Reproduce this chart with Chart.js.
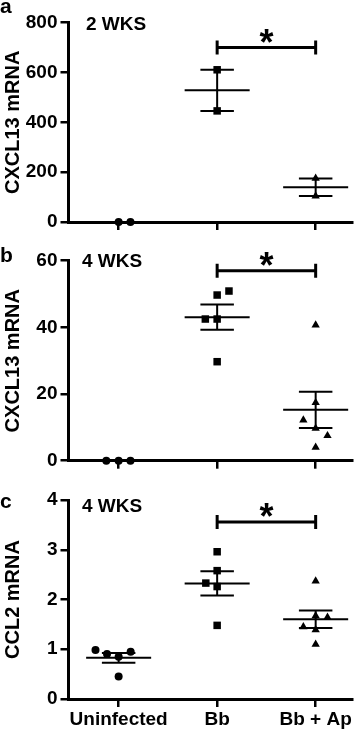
<!DOCTYPE html>
<html><head><meta charset="utf-8">
<script src="https://cdn.jsdelivr.net/npm/chart.js@4.4.0/dist/chart.umd.min.js"></script>
<style>
html,body{margin:0;padding:0;background:#fff;width:358px;height:734px;overflow:hidden}
canvas{position:absolute;left:0}
</style></head><body>
<canvas id="pa" width="358" height="238" style="top:0;width:358px;height:238px"></canvas>
<canvas id="pb" width="358" height="239" style="top:238px;width:358px;height:239px"></canvas>
<canvas id="pc" width="358" height="257" style="top:477px;width:358px;height:257px"></canvas>
<script>
// ---------- data ----------
const categories = ['Uninfected', 'Bb', 'Bb + Ap'];
const panelLetters = ['a', 'b', 'c'];
const timeLabels = ['2 WKS', '4 WKS', '4 WKS'];
const yTitles = ['CXCL13 mRNA', 'CXCL13 mRNA', 'CCL2 mRNA'];
const yMax = [800, 60, 4];
const yStep = [200, 20, 1];
const sigBracket = [700, 57, 3.56];

// panel a: CXCL13, 2 weeks
const a_uninfected = [0, 0];
const a_bb = [611, 446];
const a_bbap = [175, 104];
// panel b: CXCL13, 4 weeks
const b_uninfected = [0, 0, 0];
const b_bb = [50.9, 49.7, 42.5, 42.5, 29.7];
const b_bbap = [40.7, 17.4, 12.2, 9.7, 7.5, 4.0];
// panel c: CCL2, 4 weeks
const c_uninfected = [0.985, 0.905, 0.85, 0.95, 0.45];
const c_bb = [2.96, 2.58, 2.33, 2.26, 1.48];
const c_bbap = [2.37, 1.67, 1.64, 1.45, 1.39, 1.10];

// column-scatter spread of points inside each column (category units)
const a_spread = [[0, 0.12], [0, 0], [0, 0]];
const b_spread = [[-0.125, 0, 0.12], [0.12, 0, -0.12, 0, 0], [0, 0, -0.125, 0, 0.12, 0]];
const c_spread = [[-0.235, -0.118, 0, 0.122, 0], [0, 0, -0.115, 0, 0], [0, 0, 0.12, -0.125, 0, 0]];

// ---------- helpers ----------
const FONT = '"Liberation Sans", Arial, Helvetica, sans-serif';
const shapes = ['circle', 'rect', 'triangle'];
const radii = [4, 5.3, 4.8];
function mean(v) { return v.reduce((s, x) => s + x, 0) / v.length; }
function sem(v) {
  const m = mean(v);
  const s2 = v.reduce((s, x) => s + (x - m) * (x - m), 0) / (v.length - 1);
  return Math.sqrt(s2 / v.length);
}
function seg(x1, y1, x2, y2) {
  return { type: 'line', data: [{ x: x1, y: y1 }, { x: x2, y: y2 }], showLine: true,
    borderColor: '#000', borderWidth: 2, pointRadius: 0, clip: false, order: 2 };
}

const annot = {
  id: 'annot',
  afterDatasetsDraw(chart, args, o) {
    const { ctx, scales } = chart;
    const x = scales.x, y = scales.y;
    const yb = y.getPixelForValue(o.bracket);
    const x1 = x.getPixelForValue(2), x2 = x.getPixelForValue(3);
    ctx.save();
    ctx.strokeStyle = '#000'; ctx.lineWidth = 3;
    ctx.beginPath();
    ctx.moveTo(x1, yb); ctx.lineTo(x2, yb);
    ctx.moveTo(x1, yb - 7); ctx.lineTo(x1, yb + 7);
    ctx.moveTo(x2, yb - 7); ctx.lineTo(x2, yb + 7);
    ctx.stroke();
    ctx.fillStyle = '#000';
    ctx.font = 'bold 36px ' + FONT;
    ctx.textAlign = 'center'; ctx.textBaseline = 'alphabetic';
    ctx.fillText('*', (x1 + x2) / 2, yb + 7);
    ctx.font = 'bold 19px ' + FONT;
    ctx.textAlign = 'left';
    ctx.fillText(o.label, o.labelX, o.labelY);
    ctx.font = 'bold 21px ' + FONT;
    ctx.fillText(o.letter, 0, o.letterY);
    ctx.restore();
  }
};

function makePanel(id, idx, groups, spread, H, bottomPx, showX, labelX, labelY, letterY) {
  const datasets = [];
  groups.forEach((vals, g) => {
    const cx = g + 1;
    const m = mean(vals), s = sem(vals);
    datasets.push(seg(cx - 0.33, m, cx + 0.33, m));
    datasets.push(seg(cx - 0.17, m + s, cx + 0.17, m + s));
    datasets.push(seg(cx - 0.17, m - s, cx + 0.17, m - s));
    datasets.push(seg(cx, m - s, cx, m + s));
    datasets.push({
      type: 'scatter',
      data: vals.map((v, i) => ({ x: cx + spread[g][i], y: v })),
      pointStyle: shapes[g], pointRadius: radii[g], pointHoverRadius: radii[g],
      backgroundColor: '#000', borderColor: '#000', borderWidth: 0, clip: false, order: 1
    });
  });
  return new Chart(document.getElementById(id), {
    type: 'scatter',
    data: { datasets },
    plugins: [annot],
    options: {
      responsive: false, animation: false, devicePixelRatio: 1,
      layout: { padding: { top: (idx === 2 ? 23 : 22.7), right: 1, bottom: 0, left: 0 } },
      plugins: {
        legend: { display: false }, tooltip: { enabled: false },
        annot: { bracket: sigBracket[idx], label: timeLabels[idx], letter: panelLetters[idx],
                 labelX: labelX, labelY: labelY, letterY: letterY }
      },
      scales: {
        x: {
          type: 'linear', min: 0.491, max: 3.376,
          afterFit(sc) { sc.height = H - bottomPx; },
          afterBuildTicks(sc) { sc.ticks = [1, 2, 3].map(v => ({ value: v })); },
          border: { display: true, color: '#000', width: 3 },
          grid: { drawOnChartArea: false, drawTicks: true, tickLength: 8, color: '#000', lineWidth: 2.5 },
          ticks: { display: showX, padding: 1, color: '#000', font: { family: FONT, size: 19, weight: 'bold' },
                   callback: (v) => categories[v - 1] }
        },
        y: {
          type: 'linear', min: 0, max: yMax[idx],
          afterFit(sc) { sc.width = 68.5; },
          border: { display: true, color: '#000', width: 3 },
          grid: { drawOnChartArea: false, drawTicks: true, tickLength: 8, color: '#000', lineWidth: 2.5 },
          ticks: { stepSize: yStep[idx], padding: 3, color: '#000', font: { family: FONT, size: 19, weight: 'bold' } },
          title: { display: true, text: yTitles[idx], color: '#000', padding: { top: 1, bottom: 0 },
                   font: { family: FONT, size: 20, weight: 'bold' } }
        }
      }
    }
  });
}

makePanel('pa', 0, [a_uninfected, a_bb, a_bbap], a_spread, 238, 222, false, 86, 30, 13);
makePanel('pb', 1, [b_uninfected, b_bb, b_bbap], b_spread, 239, 222.7, false, 82, 28.7, 23.7);
makePanel('pc', 2, [c_uninfected, c_bb, c_bbap], c_spread, 257, 222, true, 82, 34.7, 31.3);
</script>
</body></html>
